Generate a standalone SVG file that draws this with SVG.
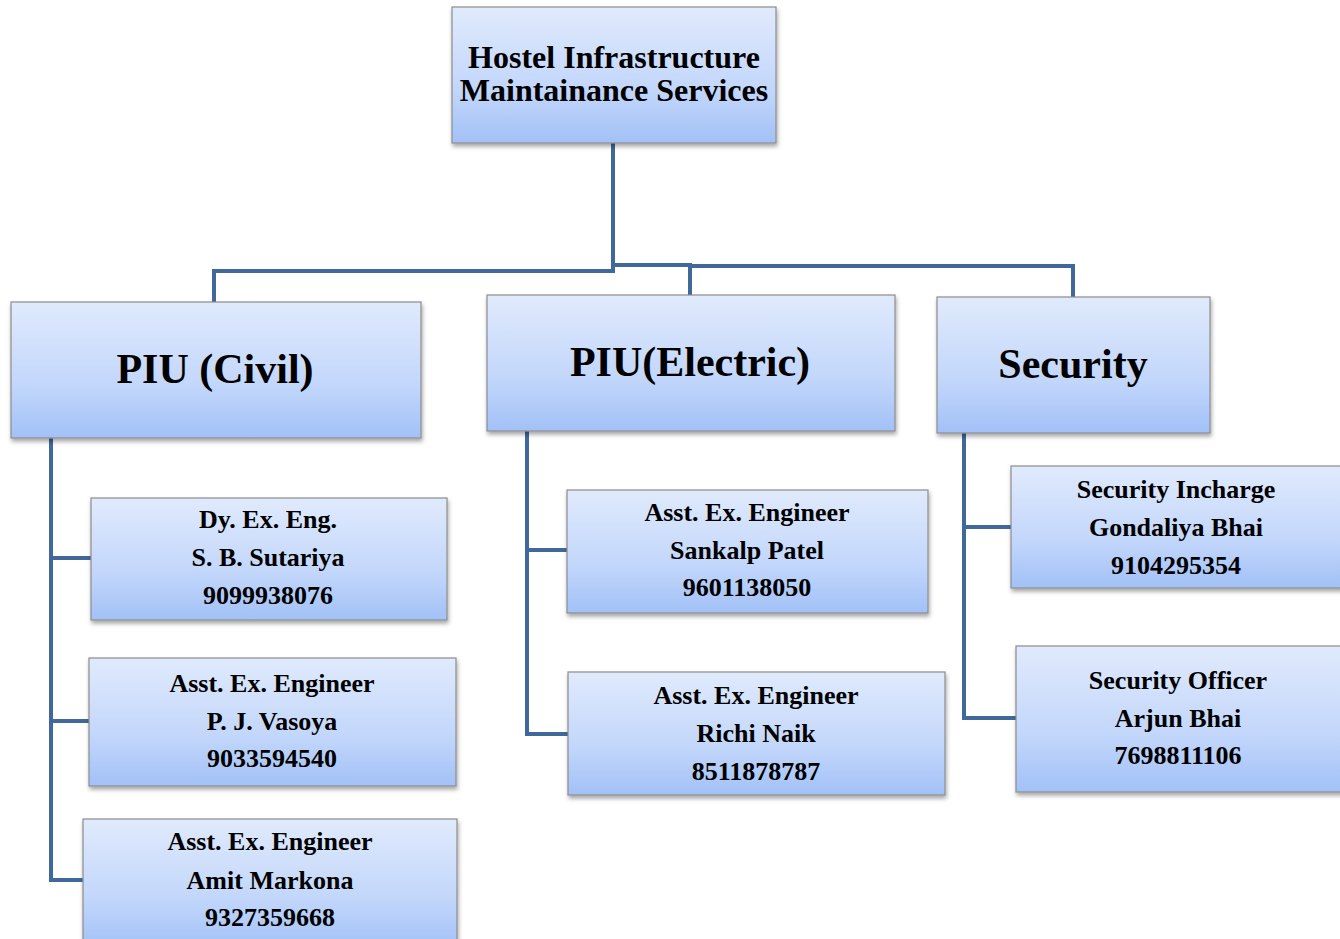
<svg xmlns="http://www.w3.org/2000/svg" width="1340" height="939" viewBox="0 0 1340 939">
<defs>
<linearGradient id="g" x1="0" y1="0" x2="0" y2="1">
<stop offset="0" stop-color="#e0eafc"/>
<stop offset="0.6" stop-color="#c3d7fb"/>
<stop offset="1" stop-color="#a2c1f7"/>
</linearGradient>
<filter id="sh" x="-10%" y="-10%" width="120%" height="130%">
<feDropShadow dx="1" dy="3" stdDeviation="2" flood-color="#000" flood-opacity="0.35"/>
</filter>
</defs>
<style>
.box{fill:url(#g);stroke:#8c8c8c;stroke-width:1.2;filter:url(#sh)}
.t{font-family:"Liberation Serif","Times New Roman",serif;font-weight:bold;fill:#000;text-anchor:middle}
.s{font-size:26px}
.m{font-size:32px}
.l{font-size:42px}
.c{fill:none;stroke:#41689b;stroke-width:4;stroke-linejoin:miter}
</style>
<rect width="1340" height="939" fill="#fff"/>
<g id="connectors">
<path class="c" d="M613,143 V271 H214 V302"/>
<path class="c" d="M613,268 V265 H690 V295"/>
<path class="c" d="M690,266 H1073 V297"/>
<path class="c" d="M51,438 V880 H83"/>
<path class="c" d="M51,558 H91"/>
<path class="c" d="M51,721 H89"/>
<path class="c" d="M527,431 V734 H568"/>
<path class="c" d="M527,550 H567"/>
<path class="c" d="M964,433 V718 H1016"/>
<path class="c" d="M964,527 H1011"/>
</g>
<g id="root">
<rect class="box" x="452" y="7" width="324" height="136"/>
<text class="t m" x="614" y="68">Hostel Infrastructure</text>
<text class="t m" x="614" y="101">Maintainance Services</text>
</g>
<g id="civil">
<rect class="box" x="11" y="302" width="410" height="136"/>
<text class="t l" x="215" y="383">PIU (Civil)</text>
</g>
<g id="electric">
<rect class="box" x="487" y="295" width="408" height="136"/>
<text class="t l" x="690" y="376">PIU(Electric)</text>
</g>
<g id="security">
<rect class="box" x="937" y="297" width="273" height="136"/>
<text class="t l" x="1073" y="378">Security</text>
</g>
<g id="civil1">
<rect class="box" x="91" y="498" width="356" height="122"/>
<text class="t s" x="268" y="528">Dy. Ex. Eng.</text>
<text class="t s" x="268" y="566">S. B. Sutariya</text>
<text class="t s" x="268" y="604">9099938076</text>
</g>
<g id="civil2">
<rect class="box" x="89" y="658" width="367" height="128"/>
<text class="t s" x="272" y="692">Asst. Ex. Engineer</text>
<text class="t s" x="272" y="730">P. J. Vasoya</text>
<text class="t s" x="272" y="767">9033594540</text>
</g>
<g id="civil3">
<rect class="box" x="83" y="819" width="374" height="130"/>
<text class="t s" x="270" y="850">Asst. Ex. Engineer</text>
<text class="t s" x="270" y="889">Amit Markona</text>
<text class="t s" x="270" y="926">9327359668</text>
</g>
<g id="elec1">
<rect class="box" x="567" y="490" width="361" height="123"/>
<text class="t s" x="747" y="521">Asst. Ex. Engineer</text>
<text class="t s" x="747" y="559">Sankalp Patel</text>
<text class="t s" x="747" y="596">9601138050</text>
</g>
<g id="elec2">
<rect class="box" x="568" y="672" width="377" height="123"/>
<text class="t s" x="756" y="704">Asst. Ex. Engineer</text>
<text class="t s" x="756" y="742">Richi Naik</text>
<text class="t s" x="756" y="780">8511878787</text>
</g>
<g id="sec1">
<rect class="box" x="1011" y="466" width="332" height="122"/>
<text class="t s" x="1176" y="498">Security Incharge</text>
<text class="t s" x="1176" y="536">Gondaliya Bhai</text>
<text class="t s" x="1176" y="574">9104295354</text>
</g>
<g id="sec2">
<rect class="box" x="1016" y="646" width="327" height="146"/>
<text class="t s" x="1178" y="689">Security Officer</text>
<text class="t s" x="1178" y="727">Arjun Bhai</text>
<text class="t s" x="1178" y="764">7698811106</text>
</g>
</svg>
